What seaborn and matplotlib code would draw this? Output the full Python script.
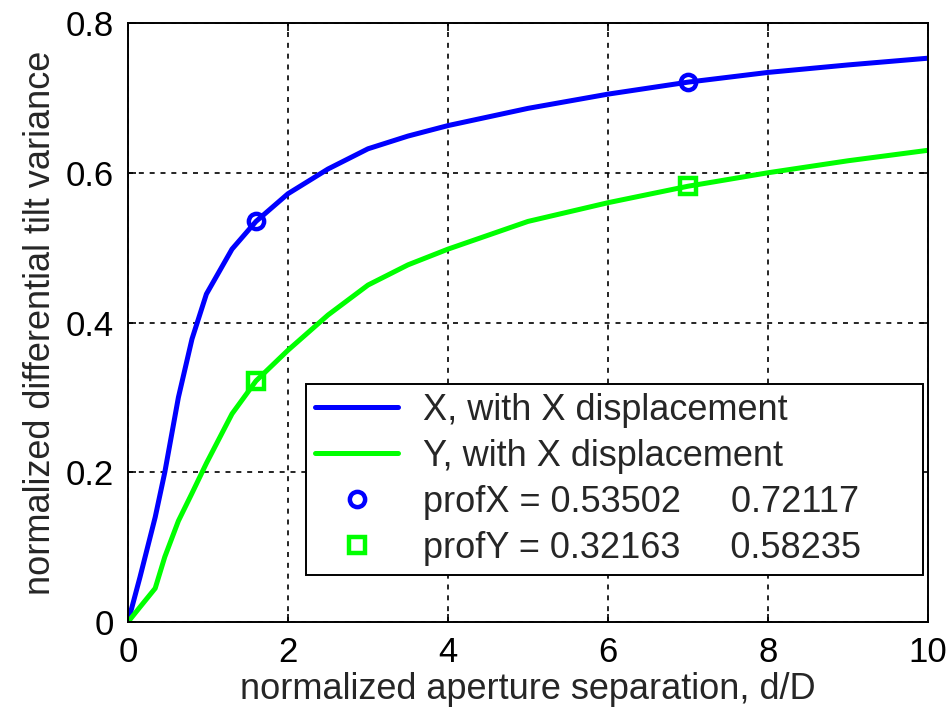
import matplotlib
matplotlib.use("Agg")
import matplotlib.pyplot as plt
import seaborn as sns
import pandas as pd

# aperture separation d/D and the two tilt-variance curves
sep = [0, 0.15, 0.34, 0.46, 0.63, 0.8, 0.98, 1.3, 1.6, 2.0, 2.5, 3.0, 3.5, 4.0, 5.0, 6.0, 7.0, 8.0, 9.0, 10.0]
var_x = [0, 0.06, 0.14, 0.20, 0.30, 0.378, 0.438, 0.498, 0.535, 0.572, 0.605, 0.632, 0.649, 0.663, 0.686, 0.705, 0.721, 0.734, 0.744, 0.753]
var_y = [0, 0.02, 0.045, 0.087, 0.135, 0.172, 0.212, 0.278, 0.322, 0.363, 0.41, 0.45, 0.477, 0.498, 0.535, 0.560, 0.582, 0.600, 0.616, 0.630]

# profile sample points
prof_sep = [1.6, 7.0]
prof_x = [0.53502, 0.72117]
prof_y = [0.32163, 0.58235]

label_x = "X, with X displacement"
label_y = "Y, with X displacement"
label_px = "profX = 0.53502     0.72117"
label_py = "profY = 0.32163     0.58235"

sns.set_style("white")
plt.rcParams["font.family"] = ["Liberation Sans", "DejaVu Sans"]

fig = plt.figure(figsize=(9.49, 7.18), dpi=100)
ax = fig.add_axes([128 / 949, 1 - 622 / 718, 800 / 949, 599 / 718])

df = pd.DataFrame({"sep": sep, "vx": var_x, "vy": var_y})
sns.lineplot(data=df, x="sep", y="vx", ax=ax, color="#0000ff", lw=3.6, label=label_x)
sns.lineplot(data=df, x="sep", y="vy", ax=ax, color="#00ff00", lw=3.6, label=label_y)

ax.plot(prof_sep, prof_x, linestyle="none", marker="o", ms=11, mfc="none",
        mec="#0000ff", mew=3.2, label=label_px)
ax.plot(prof_sep, prof_y, linestyle="none", marker="s", ms=12, mfc="none",
        mec="#00ff00", mew=3.2, label=label_py)

ax.set_xlim(0, 10)
ax.set_ylim(0, 0.8)
ax.set_xticks([0, 2, 4, 6, 8, 10])
ax.set_yticks([0, 0.2, 0.4, 0.6, 0.8])
ax.set_xticklabels(["0", "2", "4", "6", "8", "10"])
ax.set_yticklabels(["0", "0.2", "0.4", "0.6", "0.8"])

ax.grid(True, color="black", linestyle=(0, (3, 3.5)), lw=1.2)
for s in ax.spines.values():
    s.set_visible(True)
    s.set_color("black")
    s.set_linewidth(1.4)
ax.tick_params(direction="in", length=6, width=1.2, labelsize=25, pad=10,
               top=True, right=True, bottom=True, left=True, colors="black")

ax.set_xlabel("normalized aperture separation, d/D", fontsize=26, labelpad=2)
ax.set_ylabel("normalized differential tilt variance", fontsize=26, labelpad=6)

leg = ax.legend(loc="upper left",
                bbox_to_anchor=(306 / 949, 1 - 570 / 718, 617 / 949, 186 / 718),
                bbox_transform=fig.transFigure, mode="expand", borderaxespad=0,
                fontsize=26, frameon=True, fancybox=False, framealpha=1,
                edgecolor="black", handlelength=2.3, handletextpad=0.7,
                labelspacing=0.3, borderpad=0.25)
leg.get_frame().set_linewidth(1.4)

fig.savefig("out.png", dpi=100, facecolor="white")
